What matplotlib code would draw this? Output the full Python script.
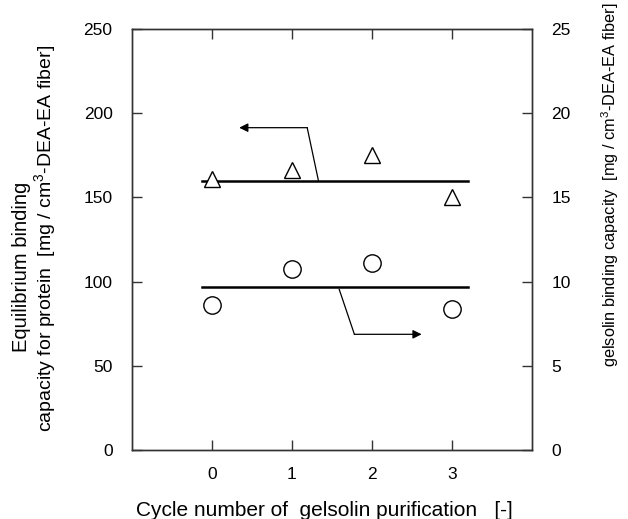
"""Equilibrium binding capacity vs. gelsolin purification cycle."""

import matplotlib
matplotlib.use("Agg")
import matplotlib.pyplot as plt

plt.rcParams["font.family"] = ["Liberation Sans", "DejaVu Sans"]
plt.rcParams["mathtext.fontset"] = "custom"
plt.rcParams["mathtext.rm"] = "Liberation Sans"

cycles = [0, 1, 2, 3]
xtick_labels = ["0", "1", "2", "3"]
protein_capacity = [161, 166, 175, 150]        # left axis, triangles
gelsolin_capacity = [8.6, 10.75, 11.1, 8.35]   # right axis, circles
protein_level = 160
gelsolin_level = 9.7
level_span = [-0.12, 3.2]

# arrow paths: start on the level line, bend, then point to the axis it belongs to
protein_arrow_x = [1.33, 1.19, 0.34]
protein_arrow_y = [160, 191.4, 191.4]
gelsolin_arrow_x = [1.59, 1.78, 2.62]
gelsolin_arrow_y = [9.54, 6.87, 6.87]

fig = plt.figure(figsize=(6.28, 5.19), dpi=100)
ax = fig.add_axes([132 / 628, 69 / 519, 400 / 628, 421 / 519])
ax2 = ax.twinx()

ax.set_xlim(-1, 4)
ax.set_ylim(0, 250)
ax2.set_ylim(0, 25)

ax.plot(level_span, [protein_level] * 2, color="black", lw=1.8, zorder=2)
ax.plot(cycles, protein_capacity, linestyle="none", marker="^", ms=12,
        mfc="white", mec="black", mew=1.0, zorder=3)

ax2.plot(level_span, [gelsolin_level] * 2, color="black", lw=1.8, zorder=2)
ax2.plot(cycles, gelsolin_capacity, linestyle="none", marker="o", ms=12.5,
         mfc="white", mec="black", mew=1.0, zorder=3)

ax.plot(protein_arrow_x[:2], protein_arrow_y[:2], color="black", lw=0.9)
ax.annotate("", xy=(protein_arrow_x[2], protein_arrow_y[2]),
            xytext=(protein_arrow_x[1], protein_arrow_y[1]),
            arrowprops=dict(arrowstyle="-|>", color="black", lw=0.9,
                            mutation_scale=13, shrinkA=0, shrinkB=0))

ax2.plot(gelsolin_arrow_x[:2], gelsolin_arrow_y[:2], color="black", lw=0.9)
ax2.annotate("", xy=(gelsolin_arrow_x[2], gelsolin_arrow_y[2]),
             xytext=(gelsolin_arrow_x[1], gelsolin_arrow_y[1]),
             arrowprops=dict(arrowstyle="-|>", color="black", lw=0.9,
                             mutation_scale=13, shrinkA=0, shrinkB=0))

ax.set_xticks(cycles)
ax.set_xticklabels(xtick_labels)
ax.set_yticks([0, 50, 100, 150, 200, 250])
ax2.set_yticks([0, 5, 10, 15, 20, 25])

for a in (ax, ax2):
    for s in a.spines.values():
        s.set_linewidth(1.0)
        s.set_color("#333333")
    a.tick_params(direction="in", length=7, width=1.0, labelsize=12.5,
                  color="#333333", pad=14)
ax.tick_params(axis="x", top=True, pad=12)
ax.tick_params(axis="y", right=False)

fig.text(22 / 628, 1 - 267 / 519, "Equilibrium binding", rotation=90,
         ha="center", va="center", fontsize=14.5)
fig.text(46 / 628, 1 - 238 / 519,
         "capacity for protein  [mg / cm$^3$-DEA-EA fiber]", rotation=90,
         ha="center", va="center", fontsize=14)
fig.text(610 / 628, 1 - 185 / 519,
         "gelsolin binding capacity  [mg / cm$^3$-DEA-EA fiber]", rotation=90,
         ha="center", va="center", fontsize=11.8)
fig.text(324 / 628, 1 - 510 / 519,
         "Cycle number of  gelsolin purification   [-]",
         ha="center", va="center", fontsize=15)

fig.savefig("out.png", dpi=100)
